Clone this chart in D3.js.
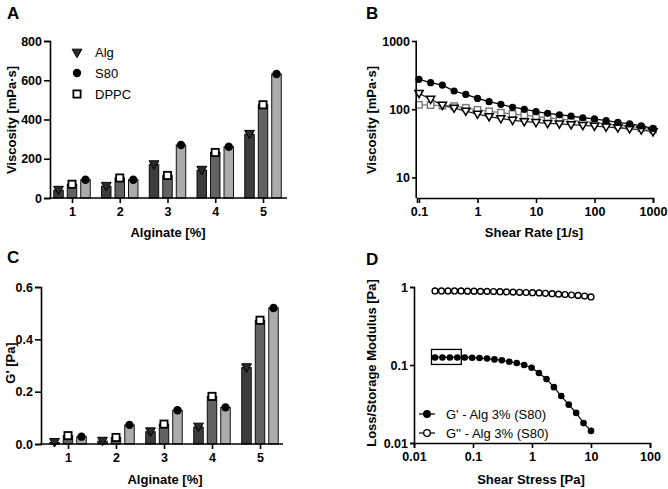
<!DOCTYPE html>
<meta charset="utf-8">
<script src="https://d3js.org/d3.v7.min.js"></script>
<style>
  body { margin: 0; background: #fff; }
  text { font-family: Arial, "Liberation Sans", sans-serif; fill: #000; }
</style>
<div id="chart"></div>
<script>

// ---- data ----
const alginate = ["1", "2", "3", "4", "5"];
const barSeries = ["Alg", "DPPC", "S80"];

// panel A: viscosity [mPa·s]
const viscAlg  = [40, 60, 170, 142, 325];
const viscDPPC = [70, 102, 115, 232, 475];
const viscS80  = [93, 93, 270, 261, 632];

// panel C: G' [Pa]
const gpAlg  = [0.006, 0.011, 0.047, 0.065, 0.292];
const gpDPPC = [0.032, 0.025, 0.076, 0.182, 0.473];
const gpS80  = [0.028, 0.073, 0.129, 0.140, 0.520];

// panel B: viscosity vs shear rate
const shearRate = [0.1, 0.158, 0.251, 0.398, 0.631, 1, 1.58, 2.51, 3.98, 6.31, 10,
                   15.8, 25.1, 39.8, 63.1, 100, 158, 251, 398, 631, 1000];
const flowS80  = [274, 245, 226, 185, 165, 144, 129, 118, 107, 100, 92,
                  87, 83, 79, 75, 72, 68, 64, 61, 57, 52.5];
const flowAlg  = [171, 140, 115, 104, 94, 85, 78, 73, 69, 66, 64,
                  62, 61, 59.5, 58, 56.5, 55, 53.5, 52, 50, 47];
const flowDPPC = [116, 115, 113, 111, 105, 98, 93, 89, 85, 82, 78,
                  75, 72, 69, 66, 64, 61, 58, 56, 53, 50];

// panel D: amplitude (stress) sweep, Alg 3% (S80)
const stressG1 = [0.0227, 0.0303, 0.0405, 0.0542, 0.0724, 0.0967, 0.129, 0.173, 0.231, 0.308, 0.412,
                  0.551, 0.736, 0.984, 1.31, 1.76, 2.35, 3.13, 4.19, 5.60, 7.48, 10.0];
const storageG1 = [0.125, 0.125, 0.125, 0.125, 0.125, 0.124, 0.123, 0.121, 0.118, 0.115, 0.110,
                   0.106, 0.100, 0.092, 0.079, 0.066, 0.052, 0.040, 0.031, 0.0243, 0.018, 0.0143];
const stressG2 = [0.0227, 0.0292, 0.0377, 0.0486, 0.0627, 0.0807, 0.104, 0.134, 0.173, 0.223, 0.287,
                  0.370, 0.477, 0.615, 0.792, 1.02, 1.32, 1.69, 2.19, 2.82, 3.63, 4.68, 6.03, 7.78, 10.0];
const lossG2 = [0.89, 0.89, 0.89, 0.89, 0.89, 0.885, 0.885, 0.88, 0.88, 0.875, 0.87, 0.865, 0.86,
                0.855, 0.85, 0.845, 0.84, 0.83, 0.82, 0.81, 0.80, 0.79, 0.78, 0.765, 0.745];

// ---- svg ----
const svg = d3.select("#chart").append("svg")
  .attr("width", 668)
  .attr("height", 489);

const barColor = {Alg: "#3c3c3c", DPPC: "#626262", S80: "#ababab"};
const barOffset = {Alg: -13.5, DPPC: 0, S80: 13.5};
const barWidth = 9.5;

function styleAxis(g) {
  g.selectAll("path, line").attr("stroke", "#000").attr("stroke-width", 1.6);
  g.selectAll("text").attr("font-weight", "bold").attr("font-size", "12.5px")
    .attr("font-family", "Arial, 'Liberation Sans', sans-serif");
}

function marker(g, type, x, y) {
  if (type === "Alg") {
    g.append("path")
      .attr("d", d3.symbol(d3.symbolTriangle, 42)())
      .attr("transform", `translate(${x},${y - 1}) rotate(180)`)
      .attr("fill", "#2a2a2a").attr("stroke", "#000").attr("stroke-width", 1);
  } else if (type === "S80") {
    g.append("circle").attr("cx", x).attr("cy", y).attr("r", 4.2).attr("fill", "#000");
  } else {
    g.append("rect").attr("x", x - 3.6).attr("y", y - 3.6)
      .attr("width", 7.2).attr("height", 7.2)
      .attr("fill", "#fff").attr("stroke", "#000").attr("stroke-width", 1.8);
  }
}

function letter(txt, x, y) {
  svg.append("text").attr("x", x).attr("y", y).text(txt)
    .attr("font-size", "17px").attr("font-weight", "bold");
}

function xTitle(txt, x, y) {
  svg.append("text").attr("x", x).attr("y", y).attr("dy", "0.35em")
    .attr("text-anchor", "middle").attr("font-size", "13px").attr("font-weight", "bold")
    .text(txt);
}

function yTitle(txt, x, y) {
  svg.append("text").attr("transform", `translate(${x},${y}) rotate(-90)`)
    .attr("dy", "0.35em").attr("text-anchor", "middle")
    .attr("font-size", "13px").attr("font-weight", "bold").text(txt);
}

// bar panel (A and C)
function barPanel(o) {
  const x = d3.scalePoint().domain(alginate).range(o.xr);
  const y = d3.scaleLinear().domain(o.yd).range(o.yr);
  const g = svg.append("g");

  const data = {Alg: o.alg, DPPC: o.dppc, S80: o.s80};
  barSeries.forEach(s => {
    g.selectAll(null)
      .data(alginate)
      .join("rect")
        .attr("x", d => x(d) + barOffset[s] - barWidth / 2)
        .attr("y", (d, i) => y(data[s][i]))
        .attr("width", barWidth)
        .attr("height", (d, i) => y(0) - y(data[s][i]))
        .attr("fill", barColor[s])
        .attr("stroke", "#000").attr("stroke-width", 0.9);
  });
  barSeries.forEach(s => {
    alginate.forEach((d, i) => marker(g, s, x(d) + barOffset[s], y(data[s][i])));
  });

  // axes
  const ya = svg.append("g").attr("transform", `translate(${o.axX},0)`)
    .call(d3.axisLeft(y).tickValues(o.yt).tickSize(6).tickPadding(2).tickFormat(o.fmt));
  styleAxis(ya);
  const xa = svg.append("g").attr("transform", `translate(0,${y(0)})`)
    .call(d3.axisBottom(x).tickSize(5).tickPadding(4));
  xa.select(".domain").remove();
  styleAxis(xa);
  svg.append("line").attr("x1", o.axX - 0.8).attr("x2", o.axEnd)
    .attr("y1", y(0)).attr("y2", y(0))
    .attr("stroke", "#000").attr("stroke-width", 1.6);
}

// ---- A ----
letter("A", 7, 18.5);
barPanel({xr: [72, 263], yd: [0, 800], yr: [198, 41], axX: 50, axEnd: 287,
  yt: [0, 200, 400, 600, 800], fmt: d3.format("d"),
  alg: viscAlg, dppc: viscDPPC, s80: viscS80});
yTitle("Viscosity [mPa·s]", 11, 120);
xTitle("Alginate [%]", 168, 232);

// legend A
const legA = svg.append("g");
const legNames = ["Alg", "S80", "DPPC"];
legNames.forEach((n, i) => {
  const yy = 52 + i * 21;
  marker(legA, n, 77, n === "Alg" ? yy + 1 : yy);
  legA.append("text").attr("x", 95).attr("y", yy).attr("dy", "0.35em")
    .attr("font-size", "13px").text(n);
});

// ---- C ----
letter("C", 7, 263);
barPanel({xr: [68, 260], yd: [0, 0.6], yr: [444, 287], axX: 41, axEnd: 283,
  yt: [0, 0.2, 0.4, 0.6], fmt: d3.format(".1f"),
  alg: gpAlg, dppc: gpDPPC, s80: gpS80});
yTitle("G' [Pa]", 10, 363);
xTitle("Alginate [%]", 165, 479);

// ---- B ----
letter("B", 366, 18.5);
const xB = d3.scaleLog().domain([0.0925, 1000]).range([417, 653]);
const yB = d3.scaleLog().domain([5, 1000]).range([198, 41]);
const gB = svg.append("g");
const lineB = d3.line().x(d => xB(d[0])).y(d => yB(d[1]));

const flows = [
  {name: "DPPC", v: flowDPPC, stroke: "#777"},
  {name: "Alg", v: flowAlg, stroke: "#222"},
  {name: "S80", v: flowS80, stroke: "#000"}
];
flows.forEach(f => {
  const pts = shearRate.map((r, i) => [r, f.v[i]]);
  gB.append("path").datum(pts).attr("d", lineB)
    .attr("fill", "none").attr("stroke", f.stroke).attr("stroke-width", 1.3);
});
flows.forEach(f => {
  shearRate.forEach((r, i) => {
    const px = xB(r), py = yB(f.v[i]);
    if (f.name === "S80") {
      gB.append("circle").attr("cx", px).attr("cy", py).attr("r", 3.6).attr("fill", "#000");
    } else if (f.name === "Alg") {
      gB.append("path").attr("d", d3.symbol(d3.symbolTriangle, 30)())
        .attr("transform", `translate(${px},${py - 0.5}) rotate(180)`)
        .attr("fill", "#fff").attr("stroke", "#000").attr("stroke-width", 1.5);
    } else {
      gB.append("rect").attr("x", px - 3.2).attr("y", py - 3.2)
        .attr("width", 6.4).attr("height", 6.4)
        .attr("fill", "#fff").attr("stroke", "#777").attr("stroke-width", 1.4);
    }
  });
});
const yaB = svg.append("g").attr("transform", "translate(417,0)")
  .call(d3.axisLeft(yB).tickValues([10, 100, 1000]).tickFormat(d3.format("d")).tickSize(5).tickPadding(2));
yaB.select(".domain").attr("d", `M-0.8,${yB(1000)}V${yB(5)}`);
styleAxis(yaB);
const xaB = svg.append("g").attr("transform", "translate(0,198)")
  .call(d3.axisBottom(xB).tickValues([0.1, 1, 10, 100, 1000]).tickFormat(d => String(d)).tickSize(5).tickPadding(4));
styleAxis(xaB);
yTitle("Viscosity [mPa·s]", 371, 120);
xTitle("Shear Rate [1/s]", 534, 232);

// ---- D ----
letter("D", 366, 265);
const xD = d3.scaleLog().domain([0.01, 100]).range([414, 650]);
const yD = d3.scaleLog().domain([0.01, 1]).range([443, 287]);
const gD = svg.append("g");
const lineD = d3.line().x(d => xD(d[0])).y(d => yD(d[1]));

const ptsLoss = stressG2.map((s, i) => [s, lossG2[i]]);
const ptsStor = stressG1.map((s, i) => [s, storageG1[i]]);
gD.append("path").datum(ptsLoss).attr("d", lineD)
  .attr("fill", "none").attr("stroke", "#000").attr("stroke-width", 1.2);
gD.append("path").datum(ptsStor).attr("d", lineD)
  .attr("fill", "none").attr("stroke", "#000").attr("stroke-width", 1.2);
gD.selectAll(".loss").data(ptsLoss).join("circle")
  .attr("cx", d => xD(d[0])).attr("cy", d => yD(d[1])).attr("r", 2.9)
  .attr("fill", "#fff").attr("stroke", "#000").attr("stroke-width", 1.4);
gD.selectAll(".stor").data(ptsStor).join("circle")
  .attr("cx", d => xD(d[0])).attr("cy", d => yD(d[1])).attr("r", 3.3)
  .attr("fill", "#000");

// box round the first storage points
gD.append("rect")
  .attr("x", xD(stressG1[0]) - 3.5).attr("y", yD(storageG1[0]) - 8)
  .attr("width", xD(stressG1[3]) - xD(stressG1[0]) + 7.5).attr("height", 15)
  .attr("fill", "none").attr("stroke", "#000").attr("stroke-width", 1.3);

const yaD = svg.append("g").attr("transform", "translate(414,0)")
  .call(d3.axisLeft(yD).tickValues([0.01, 0.1, 1]).tickFormat(d => String(d)).tickSize(4).tickPadding(2));
styleAxis(yaD);
const xaD = svg.append("g").attr("transform", "translate(0,443)")
  .call(d3.axisBottom(xD).tickValues([0.01, 0.1, 1, 10, 100]).tickFormat(d => String(d)).tickSize(5).tickPadding(4));
styleAxis(xaD);
yTitle("Loss/Storage Modulus [Pa]", 371, 363);
xTitle("Shear Stress [Pa]", 531, 479);

// legend D
const legD = [
  {label: "G' - Alg 3% (S80)", fill: "#000"},
  {label: "G'' - Alg 3% (S80)", fill: "#fff"}
];
legD.forEach((l, i) => {
  const yy = 414 + i * 19;
  svg.append("line").attr("x1", 419).attr("x2", 435).attr("y1", yy).attr("y2", yy)
    .attr("stroke", "#000").attr("stroke-width", 1.2);
  svg.append("circle").attr("cx", 427).attr("cy", yy).attr("r", 3.3)
    .attr("fill", l.fill).attr("stroke", "#000").attr("stroke-width", 1.3);
  svg.append("text").attr("x", 446).attr("y", yy).attr("dy", "0.35em")
    .attr("font-size", "13px").text(l.label);
});

</script>
